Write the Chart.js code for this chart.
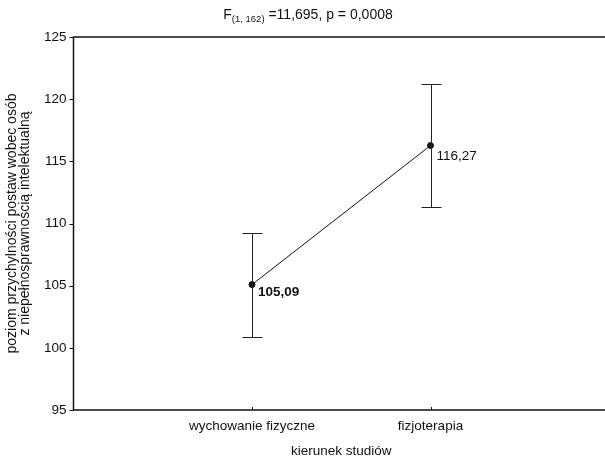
<!DOCTYPE html>
<html>
<head>
<meta charset="utf-8">
<script src="https://cdn.jsdelivr.net/npm/chart.js@4/dist/chart.umd.min.js"></script>
<style>
  html, body { margin: 0; padding: 0; background: #fff; overflow: hidden; }
  #wrap { width: 614px; height: 459px; }
</style>
</head>
<body>
<div id="wrap"><canvas id="chart-means"></canvas></div>
<script>
// Means with confidence intervals per study field
const categories = ['wychowanie fizyczne', 'fizjoterapia'];
const categoryPos = [1, 2];
const means = [105.09, 116.27];
const upperCI = [109.27, 121.2];
const lowerCI = [100.9, 111.33];
const meanLabels = ['105,09', '116,27'];
const meanLabelBold = [true, false];
const yTicks = [95, 100, 105, 110, 115, 120, 125];

const FONT = 'Liberation Sans, Arial, Helvetica, sans-serif';
const INK = '#111';

// Frame, tick marks, error bars and value labels
const decorations = {
  id: 'decorations',
  afterDatasetsDraw(chart) {
    const { ctx, chartArea: a, scales: { x, y } } = chart;
    ctx.save();
    ctx.strokeStyle = INK;
    ctx.lineWidth = 1.5;
    ctx.strokeRect(a.left, a.top, a.right - a.left, a.bottom - a.top);

    ctx.lineWidth = 1;
    // y ticks (outward)
    yTicks.forEach(v => {
      const py = Math.round(y.getPixelForValue(v)) + 0.5;
      ctx.beginPath();
      ctx.moveTo(a.left - 4, py);
      ctx.lineTo(a.left, py);
      ctx.stroke();
    });
    // x ticks (inward)
    categoryPos.forEach(v => {
      const px = Math.round(x.getPixelForValue(v)) + 0.5;
      ctx.beginPath();
      ctx.moveTo(px, a.bottom);
      ctx.lineTo(px, a.bottom - 3);
      ctx.stroke();
    });

    // error bars
    ctx.strokeStyle = '#222';
    categoryPos.forEach((v, i) => {
      const px = Math.round(x.getPixelForValue(v)) + 0.5;
      const top = Math.round(y.getPixelForValue(upperCI[i])) + 0.5;
      const bot = Math.round(y.getPixelForValue(lowerCI[i])) + 0.5;
      ctx.beginPath();
      ctx.moveTo(px, top); ctx.lineTo(px, bot);
      ctx.moveTo(px - 10, top); ctx.lineTo(px + 10, top);
      ctx.moveTo(px - 10, bot); ctx.lineTo(px + 10, bot);
      ctx.stroke();
    });

    // value labels
    ctx.fillStyle = INK;
    ctx.textAlign = 'left';
    ctx.textBaseline = 'middle';
    categoryPos.forEach((v, i) => {
      const px = x.getPixelForValue(v);
      const py = y.getPixelForValue(means[i]);
      ctx.font = (meanLabelBold[i] ? 'bold ' : '') + '13.5px ' + FONT;
      ctx.fillText(meanLabels[i], px + 6, py + (meanLabelBold[i] ? 8 : 11));
    });
    ctx.restore();
  }
};

// Title with subscript
const subTitle = {
  id: 'subTitle',
  afterDraw(chart) {
    const { ctx } = chart;
    const parts = [
      { t: 'F', size: 14, dy: 0 },
      { t: '(1, 162)', size: 9.5, dy: 3 },
      { t: ' =11,695, p = 0,0008', size: 14, dy: 0 }
    ];
    ctx.save();
    ctx.fillStyle = INK;
    ctx.textBaseline = 'alphabetic';
    let total = 0;
    parts.forEach(p => { ctx.font = p.size + 'px ' + FONT; total += ctx.measureText(p.t).width; });
    let cx = 308 - total / 2;
    parts.forEach(p => {
      ctx.font = p.size + 'px ' + FONT;
      ctx.fillText(p.t, cx, 19 + p.dy);
      cx += ctx.measureText(p.t).width;
    });
    ctx.restore();
  }
};

new Chart(document.getElementById('chart-means'), {
  type: 'line',
  data: {
    datasets: [{
      data: categoryPos.map((p, i) => ({ x: p, y: means[i] })),
      borderColor: INK,
      borderWidth: 1,
      pointBackgroundColor: INK,
      pointBorderColor: INK,
      pointRadius: 3,
      tension: 0
    }]
  },
  options: {
    responsive: true,
    maintainAspectRatio: false,
    animation: false,
    layout: { padding: { top: 37, right: 0, left: 0, bottom: 0 } },
    plugins: {
      legend: { display: false },
      tooltip: { enabled: false }
    },
    scales: {
      x: {
        type: 'linear',
        min: 0,
        max: 3,
        afterBuildTicks: (s) => { s.ticks = categoryPos.map(v => ({ value: v })); },
        afterFit: (s) => { s.height = 49; },
        grid: { display: false, drawTicks: false },
        border: { display: false },
        ticks: {
          color: INK,
          font: { family: FONT, size: 13.5 },
          padding: 8,
          maxRotation: 0,
          callback: (v) => categories[categoryPos.indexOf(v)] || ''
        },
        title: {
          display: true,
          text: 'kierunek studiów',
          color: INK,
          font: { family: FONT, size: 13.5 },
          padding: { top: 6, bottom: 0 }
        }
      },
      y: {
        min: 95,
        max: 125,
        afterBuildTicks: (s) => { s.ticks = yTicks.map(v => ({ value: v })); },
        afterFit: (s) => { s.width = 73.5; },
        grid: { display: false, drawTicks: false },
        border: { display: false },
        ticks: {
          color: INK,
          font: { family: FONT, size: 13.5 },
          padding: 7
        },
        title: {
          display: true,
          text: ['poziom przychylności postaw wobec osób', 'z niepełnosprawnością intelektualną'],
          color: INK,
          font: { family: FONT, size: 14, lineHeight: 0.95 },
          padding: { top: 5, bottom: 4 }
        }
      }
    }
  },
  plugins: [decorations, subTitle]
});
</script>
</body>
</html>
